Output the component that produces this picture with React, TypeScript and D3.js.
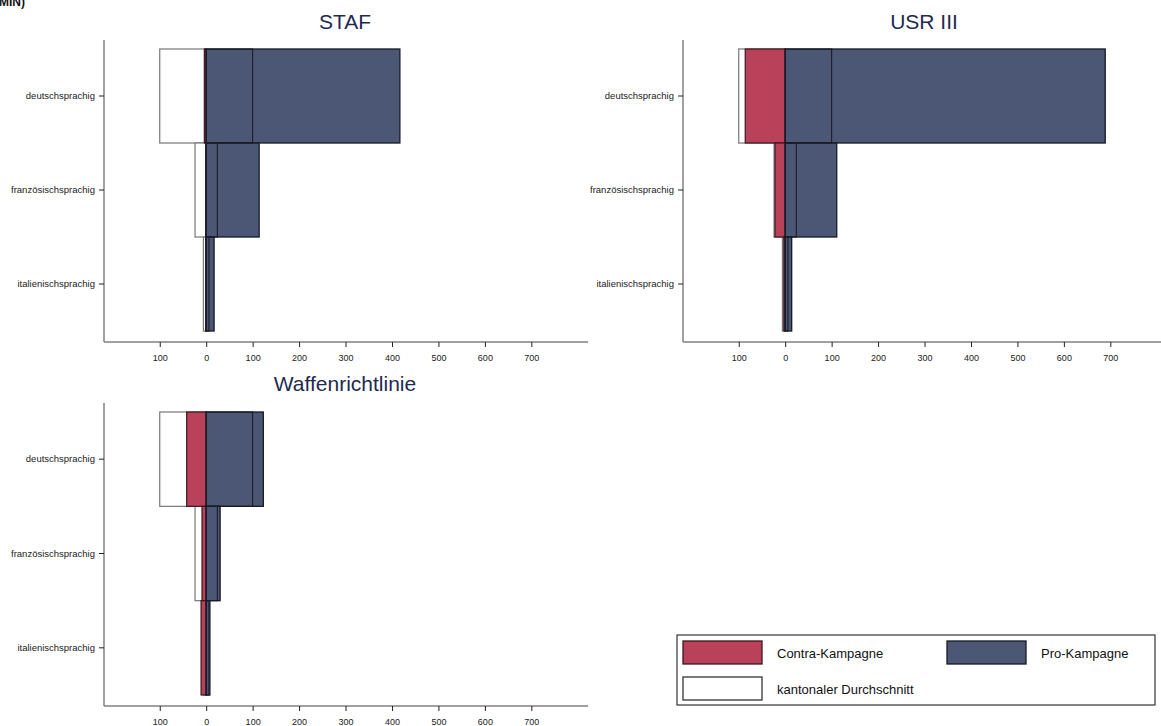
import React, { useEffect, useRef } from 'react';
import * as d3 from 'd3';

// categories (language regions)
const regions = ['deutschsprachig', 'französischsprachig', 'italienischsprachig'];

// cantonal average (same for all votes)
const average = [100, 24, 6];

// STAF
const stafContra = [4, 1, 1];
const stafPro = [417, 114, 17];

// USR III
const usrContra = [86, 22, 3];
const usrPro = [689, 111, 14];

// Waffenrichtlinie
const waffenContra = [42, 9, 11];
const waffenPro = [123, 30, 8];

const xTicks = [-100, 0, 100, 200, 300, 400, 500, 600, 700];

const RED = '#b9425a';
const BLUE = '#4b5775';
const FONT = 'Liberation Sans, Arial, sans-serif';

const panels = [
  { title: 'STAF', contra: stafContra, pro: stafPro, x0: 104, x1: 588, y0: 40, y1: 342, titleY: 35 },
  { title: 'USR III', contra: usrContra, pro: usrPro, x0: 683, x1: 1161, y0: 40, y1: 342, titleY: 35 },
  { title: 'Waffenrichtlinie', contra: waffenContra, pro: waffenPro, x0: 104, x1: 588, y0: 403, y1: 706, titleY: 397 },
];

const App = () => {
  const svgRef = useRef<SVGSVGElement>(null);

  useEffect(() => {
    const svg = d3.select(svgRef.current);
    svg.selectAll('*').remove();

    // cut-off heading at the top
    svg.append('text')
      .attr('x', -1)
      .attr('y', 6)
      .attr('font-family', FONT)
      .attr('font-size', 12)
      .attr('font-weight', 'bold')
      .attr('fill', '#111')
      .text('MIN)');

    panels.forEach(p => {
      const g = svg.append('g');

      const x = d3.scaleLinear().domain([-220, 822]).range([p.x0, p.x0 + 484]);
      const y = d3.scaleBand().domain(regions).range([p.y0 + 9, p.y1 - 11]).padding(0);

      const rows = regions.map((r, i) => ({
        region: r, avg: average[i], contra: p.contra[i], pro: p.pro[i],
      }));

      // average (left half, white)
      g.selectAll('.avg')
        .data(rows)
        .enter()
        .append('rect')
        .attr('x', d => x(-d.avg))
        .attr('y', d => y(d.region)!)
        .attr('width', d => x(0) - x(-d.avg))
        .attr('height', y.bandwidth())
        .attr('fill', '#fff')
        .attr('stroke', '#777')
        .attr('stroke-width', 1.2);

      // contra
      g.selectAll('.contra')
        .data(rows)
        .enter()
        .append('rect')
        .attr('x', d => x(-d.contra))
        .attr('y', d => y(d.region)!)
        .attr('width', d => x(0) - x(-d.contra))
        .attr('height', y.bandwidth())
        .attr('fill', RED)
        .attr('stroke', '#3a1620')
        .attr('stroke-width', 1.2);

      // pro
      g.selectAll('.pro')
        .data(rows)
        .enter()
        .append('rect')
        .attr('x', x(0))
        .attr('y', d => y(d.region)!)
        .attr('width', d => x(d.pro) - x(0))
        .attr('height', y.bandwidth())
        .attr('fill', BLUE)
        .attr('stroke', '#151a26')
        .attr('stroke-width', 1.3);

      // average outline on the right
      g.selectAll('.avgR')
        .data(rows)
        .enter()
        .append('rect')
        .attr('x', x(0))
        .attr('y', d => y(d.region)!)
        .attr('width', d => x(d.avg) - x(0))
        .attr('height', y.bandwidth())
        .attr('fill', 'none')
        .attr('stroke', '#1a1d26')
        .attr('stroke-width', 1.1);

      // x axis
      const xAxis = g.append('g')
        .attr('transform', `translate(0, ${p.y1})`)
        .call(d3.axisBottom(x).tickValues(xTicks).tickSize(5).tickSizeOuter(0)
          .tickFormat(d => String(Math.abs(+d))));
      xAxis.select('.domain').attr('stroke', '#808080').attr('stroke-width', 1.5)
        .attr('d', `M${p.x0},0H${p.x1}`);
      xAxis.selectAll('.tick line').attr('stroke', '#222');
      xAxis.selectAll('text').attr('font-family', FONT).attr('font-size', 9).attr('fill', '#222').attr('dy', '1.2em');

      // y axis
      const yAxis = g.append('g')
        .attr('transform', `translate(${p.x0}, 0)`)
        .call(d3.axisLeft(y).tickSize(5).tickSizeOuter(0).tickPadding(4));
      yAxis.select('.domain').attr('stroke', '#808080').attr('stroke-width', 1.5)
        .attr('d', `M0,${p.y0}V${p.y1}`);
      yAxis.selectAll('.tick line').attr('stroke', '#222');
      yAxis.selectAll('text').attr('font-family', FONT).attr('font-size', 9.5).attr('fill', '#222');

      // title
      g.append('text')
        .attr('x', (p.x0 + p.x0 + 484) / 2 - 1)
        .attr('y', p.titleY - 6)
        .attr('text-anchor', 'middle')
        .attr('font-family', FONT)
        .attr('font-size', 21)
        .attr('fill', '#1e2a50')
        .text(p.title);
    });

    // legend
    const lg = svg.append('g');
    lg.append('rect')
      .attr('x', 677).attr('y', 635).attr('width', 478).attr('height', 70)
      .attr('fill', '#fff').attr('stroke', '#333').attr('stroke-width', 1.2);

    const items = [
      { label: 'Contra-Kampagne', fill: RED, stroke: '#3a1620', sx: 683, sy: 641, tx: 777 },
      { label: 'Pro-Kampagne', fill: BLUE, stroke: '#151a26', sx: 947, sy: 641, tx: 1041 },
      { label: 'kantonaler Durchschnitt', fill: '#fff', stroke: '#333', sx: 683, sy: 677, tx: 777 },
    ];
    items.forEach(it => {
      lg.append('rect')
        .attr('x', it.sx).attr('y', it.sy).attr('width', 79).attr('height', 23)
        .attr('fill', it.fill).attr('stroke', it.stroke).attr('stroke-width', 1.3);
      lg.append('text')
        .attr('x', it.tx).attr('y', it.sy + 16.5)
        .attr('font-family', FONT).attr('font-size', 13).attr('fill', '#111')
        .text(it.label);
    });
  }, []);

  return (
    <svg ref={svgRef} width={1161} height={726}
      style={{ position: 'absolute', left: 0, top: 0, background: '#fff' }} />
  );
};

export default App;
